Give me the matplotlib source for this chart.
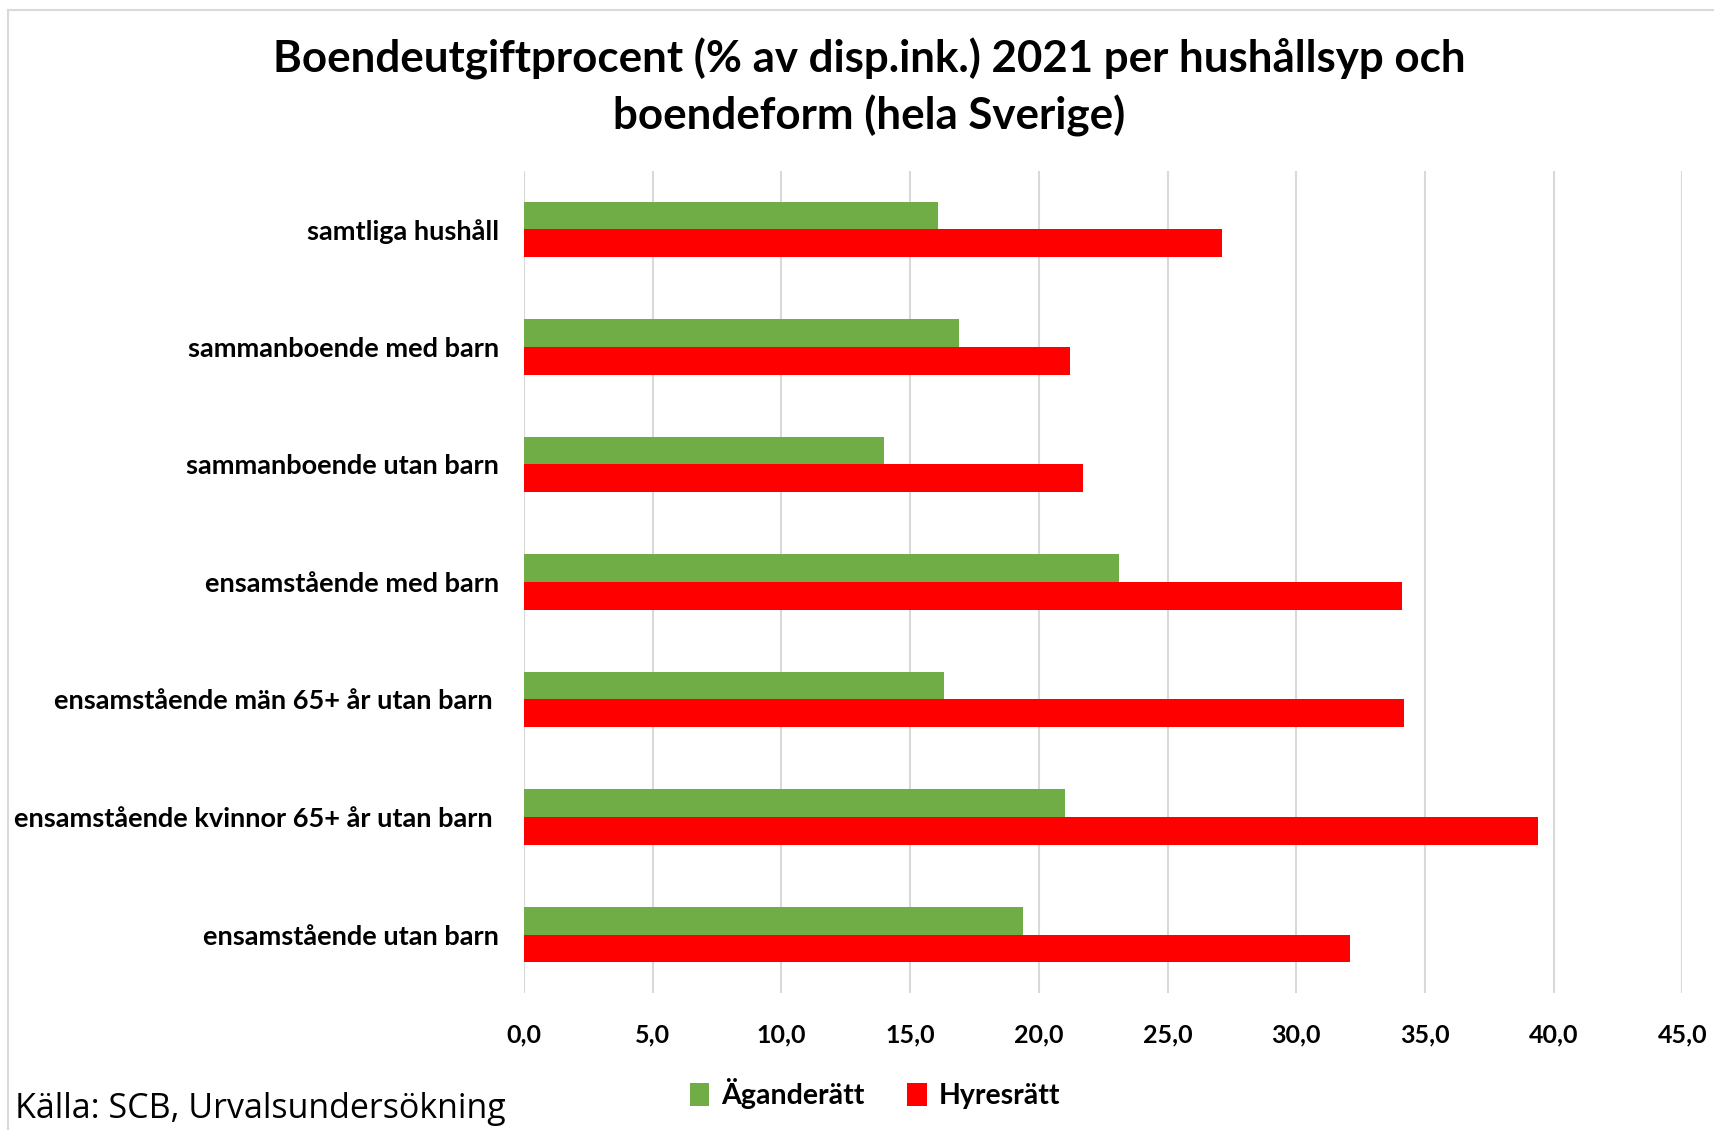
import matplotlib.pyplot as plt
import numpy as np
from matplotlib.lines import Line2D

# data (top to bottom)
categories = ["samtliga hushåll",
              "sammanboende med barn",
              "sammanboende utan barn",
              "ensamstående med barn",
              "ensamstående män 65+ år utan barn ",
              "ensamstående kvinnor 65+ år utan barn ",
              "ensamstående utan barn"]
agande = [16.1, 16.9, 14.0, 23.1, 16.3, 21.0, 19.4]
hyres = [27.1, 21.2, 21.7, 34.1, 34.2, 39.4, 32.1]
xticks = [0, 5, 10, 15, 20, 25, 30, 35, 40, 45]

green = "#70AD47"
red = "#FF0000"
font = "Lato"

fig = plt.figure(figsize=(17.15, 11.3), dpi=100)
ax = fig.add_axes([0.3055, 0.121, 0.6755, 0.728])

y = np.arange(len(categories))
h = 0.235
ax.barh(y - h / 2, agande, height=h, color=green, label="Äganderätt")
ax.barh(y + h / 2, hyres, height=h, color=red, label="Hyresrätt")

ax.set_ylim(len(categories) - 0.5, -0.5)
ax.set_xlim(0, 45)
ax.set_xticks(xticks)
ax.set_xticklabels([f"{v:.1f}".replace(".", ",") for v in xticks],
                   fontsize=18, fontweight="bold", family=font)
ax.set_yticks(y)
ax.set_yticklabels(categories, fontsize=19.5, fontweight="bold", family=font)
ax.tick_params(axis="both", length=0)
ax.tick_params(axis="x", pad=22)
ax.tick_params(axis="y", pad=18)
for s in ax.spines.values():
    s.set_visible(False)
ax.grid(axis="x", color="#d9d9d9", linewidth=1.5)
ax.set_axisbelow(True)

fig.text(0.507, 0.948, "Boendeutgiftprocent (% av disp.ink.) 2021 per hushållsyp och",
         ha="center", va="center", fontsize=31.6, fontweight="bold", family=font)
fig.text(0.507, 0.897, "boendeform (hela Sverige)",
         ha="center", va="center", fontsize=31.6, fontweight="bold", family=font)

fig.legend(loc="center", bbox_to_anchor=(0.51, 0.032), ncol=2, frameon=False,
           prop={"family": font, "weight": "bold", "size": 20.5},
           handlelength=0.7, handleheight=0.9, handletextpad=0.4, columnspacing=1.5)

fig.text(0.009, 0.019, "Källa: SCB, Urvalsundersökning", ha="left", va="center",
         fontsize=24.5, family="Open Sans")

# light frame at the top and left of the picture
fig.add_artist(Line2D([0.0045, 1.0], [0.991, 0.991], color="#d9d9d9", lw=1.5))
fig.add_artist(Line2D([0.0045, 0.0045], [0.0, 0.991], color="#d9d9d9", lw=1.5))

fig.savefig("out.png", dpi=100)
